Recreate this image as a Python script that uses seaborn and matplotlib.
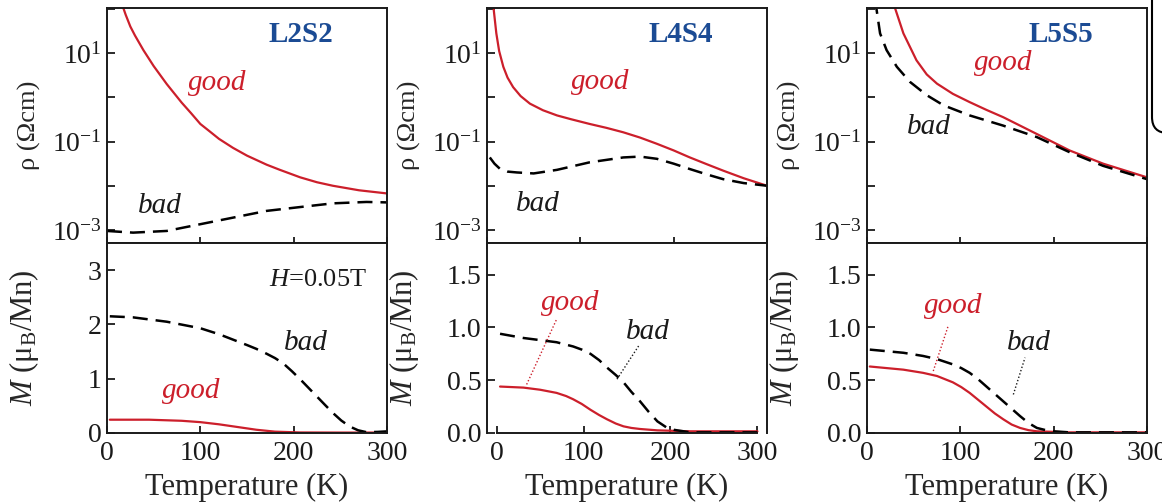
# resistivity and magnetisation of three L/S superlattices, good vs bad samples
import matplotlib
matplotlib.use("Agg")
import pandas as pd
import seaborn as sns
import matplotlib.pyplot as plt
from matplotlib.patches import FancyBboxPatch
from matplotlib.transforms import IdentityTransform
from matplotlib.ticker import FixedLocator, FixedFormatter, NullLocator

# ---- data (T in K, rho in Ohm cm, M in muB/Mn) ----
samples = ["L2S2", "L4S4", "L5S5"]

# L2S2
t_rho_good_L2S2 = [15, 17.5, 20, 25, 30, 39, 50, 64, 80, 90, 100, 110, 120, 135, 150, 171, 185, 207,
                   225, 242, 270, 300]
rho_good_L2S2 = [130, 105, 74, 40, 25, 11.7, 5.1, 2.0, 0.76, 0.44, 0.25, 0.17, 0.115, 0.072, 0.048,
                 0.030, 0.023, 0.0155, 0.012, 0.010, 0.0079, 0.0067]
t_rho_bad_L2S2 = [0, 28, 64, 100, 135, 171, 207, 242, 278, 300]
rho_bad_L2S2 = [9.5e-4, 8.7e-4, 9.5e-4, 1.35e-3, 1.9e-3, 2.7e-3, 3.3e-3, 4.0e-3, 4.3e-3, 4.2e-3]
t_m_good_L2S2 = [3, 45, 80, 100, 120, 140, 160, 180, 207, 250, 300]
m_good_L2S2 = [0.245, 0.245, 0.225, 0.2, 0.16, 0.11, 0.06, 0.025, 0.01, 0.008, 0.008]
t_m_bad_L2S2 = [3, 28, 64, 100, 120, 135, 150, 160, 171, 180, 189, 198, 207, 216, 225, 234, 242,
                251, 260, 269, 278, 290, 300]
m_bad_L2S2 = [2.15, 2.13, 2.05, 1.93, 1.82, 1.72, 1.62, 1.55, 1.46, 1.38, 1.28, 1.14, 0.99, 0.83,
              0.67, 0.51, 0.37, 0.23, 0.12, 0.05, 0.015, 0.02, 0.03]

# L4S4
t_rho_good_L4S4 = [5, 7, 10, 13, 17.5, 22, 28, 36, 46, 60, 75, 90, 110, 128, 146, 164, 182, 200,
                   217, 235, 253, 275, 300]
rho_good_L4S4 = [200, 105, 28, 11.2, 4.9, 2.8, 1.7, 1.07, 0.72, 0.51, 0.39, 0.32, 0.25, 0.204,
                 0.162, 0.123, 0.089, 0.063, 0.044, 0.031, 0.022, 0.0148, 0.010]
t_rho_bad_L4S4 = [3, 8, 14, 22, 32, 50, 75, 110, 146, 164, 182, 200, 217, 235, 253, 275, 300]
rho_bad_L4S4 = [0.0437, 0.0316, 0.024, 0.0209, 0.020, 0.019, 0.0229, 0.0339, 0.0437, 0.0457,
                0.0407, 0.0316, 0.024, 0.0182, 0.0141, 0.0115, 0.010]
t_m_good_L4S4 = [4, 31, 50, 69, 80, 88, 98, 108, 118, 127, 137, 146, 155, 165, 185, 223, 300]
m_good_L4S4 = [0.44, 0.43, 0.41, 0.38, 0.35, 0.32, 0.275, 0.22, 0.17, 0.13, 0.09, 0.063, 0.048,
               0.038, 0.025, 0.016, 0.016]
t_m_bad_L4S4 = [4, 31, 69, 88, 98, 108, 118, 127, 137, 146, 155, 165, 175, 185, 195, 204, 223, 300]
m_bad_L4S4 = [0.94, 0.9, 0.86, 0.82, 0.79, 0.75, 0.69, 0.62, 0.55, 0.48, 0.39, 0.30, 0.2, 0.11,
              0.055, 0.03, 0.006, 0.006]

# L5S5
t_rho_good_L5S5 = [28, 30, 39, 53, 64, 75, 92, 110, 128, 146, 182, 217, 253, 300]
rho_good_L5S5 = [200, 105, 28, 6.9, 3.3, 2.04, 1.2, 0.78, 0.52, 0.355, 0.148, 0.063, 0.0316, 0.0155]
t_rho_bad_L5S5 = [8, 10, 14, 21, 32, 46, 64, 82, 110, 146, 182, 217, 253, 300]
rho_bad_L5S5 = [200, 105, 28, 11.7, 4.9, 2.24, 1.12, 0.66, 0.39, 0.229, 0.126, 0.0575, 0.0282, 0.0141]
t_m_good_L5S5 = [3, 39, 60, 75, 92, 101, 110, 119, 128, 137, 146, 155, 164, 173, 182, 217, 300]
m_good_L5S5 = [0.63, 0.6, 0.57, 0.54, 0.48, 0.435, 0.38, 0.315, 0.25, 0.185, 0.13, 0.08, 0.048,
               0.027, 0.016, 0.006, 0.006]
t_m_bad_L5S5 = [3, 39, 60, 75, 92, 101, 110, 119, 128, 137, 146, 155, 164, 173, 182, 191, 200, 217, 300]
m_bad_L5S5 = [0.79, 0.76, 0.73, 0.7, 0.65, 0.615, 0.57, 0.51, 0.44, 0.37, 0.3, 0.23, 0.16, 0.095,
              0.048, 0.028, 0.016, 0.006, 0.006]

# label positions (data coords) and pointer lines for the M panels
rho_label_good = [(118, 1.45), (121, 1.58), (146, 4.1)]
rho_label_bad = [(57, 2.45e-3), (55, 2.7e-3), (66, 0.15)]
m_label_good = [(90, 0.65), (85, 1.17), (92.5, 1.14)]
m_label_bad = [(213, 1.53), (174, 0.895), (173, 0.79)]
pointer_good = [None, ([34.6, 69.2], [0.46, 1.08]), ([71, 87], [0.587, 1.015])]
pointer_bad = [None, ([138.5, 163.4], [0.51, 0.825]), ([156.8, 169.3], [0.365, 0.714])]
m_ylim = [3.5, 1.8, 1.8]
m_yticks = [[0, 1, 2, 3], [0.0, 0.5, 1.0, 1.5], [0.0, 0.5, 1.0, 1.5]]

rho_data = {
    "L2S2": (t_rho_good_L2S2, rho_good_L2S2, t_rho_bad_L2S2, rho_bad_L2S2),
    "L4S4": (t_rho_good_L4S4, rho_good_L4S4, t_rho_bad_L4S4, rho_bad_L4S4),
    "L5S5": (t_rho_good_L5S5, rho_good_L5S5, t_rho_bad_L5S5, rho_bad_L5S5),
}
m_data = {
    "L2S2": (t_m_good_L2S2, m_good_L2S2, t_m_bad_L2S2, m_bad_L2S2),
    "L4S4": (t_m_good_L4S4, m_good_L4S4, t_m_bad_L4S4, m_bad_L4S4),
    "L5S5": (t_m_good_L5S5, m_good_L5S5, t_m_bad_L5S5, m_bad_L5S5),
}

red = "#cc1f2b"
blue = "#1b4b94"
ink = "#1a1a1a"
dash = (0, (6, 3.2))
tick_fs = 20

sns.set_theme(style="ticks")
plt.rcParams["font.family"] = ["Liberation Serif", "DejaVu Serif"]
plt.rcParams["mathtext.fontset"] = "custom"
plt.rcParams["mathtext.rm"] = "Liberation Serif"
plt.rcParams["mathtext.it"] = "Liberation Serif:italic"
plt.rcParams["mathtext.bf"] = "Liberation Serif:bold"
plt.rcParams["axes.edgecolor"] = ink
plt.rcParams["axes.linewidth"] = 1.4
plt.rcParams["text.color"] = ink
plt.rcParams["xtick.color"] = ink
plt.rcParams["ytick.color"] = ink

fig = plt.figure(figsize=(11.62, 5.04), dpi=100)
lefts = [107, 487, 867]

for i, name in enumerate(samples):
    x0 = lefts[i] / 1162
    w = 280 / 1162
    ax_r = fig.add_axes([x0, 261 / 504, w, 235 / 504])
    ax_m = fig.add_axes([x0, 71 / 504, w, 190 / 504])

    # resistivity panel
    tg, rg, tb, rb = rho_data[name]
    df_g = pd.DataFrame({"T": tg, "rho": rg})
    df_b = pd.DataFrame({"T": tb, "rho": rb})
    sns.lineplot(data=df_g, x="T", y="rho", ax=ax_r, color=red, lw=1.6)
    sns.lineplot(data=df_b, x="T", y="rho", ax=ax_r, color="black", lw=1.8, linestyle=dash)
    ax_r.set_yscale("log")
    ax_r.set_xlim(0, 300)
    ax_r.set_ylim(5.07e-4, 105)
    ax_r.yaxis.set_major_locator(FixedLocator([1e-3, 1e-2, 1e-1, 1, 10, 100]))
    ax_r.yaxis.set_major_formatter(FixedFormatter([r"$10^{-3}$", "", r"$10^{-1}$", "", r"$10^{1}$", ""]))
    ax_r.yaxis.set_minor_locator(NullLocator())
    ax_r.xaxis.set_major_locator(FixedLocator([0, 100, 200, 300]))
    ax_r.tick_params(axis="y", direction="in", length=6, width=1.3, labelsize=tick_fs, pad=4)
    ax_r.tick_params(axis="x", direction="inout", length=9, width=1.3, labelbottom=False)
    ax_r.set_xlabel("")
    ax_r.set_ylabel("ρ (Ωcm)", fontsize=19)
    ax_r.yaxis.set_label_coords(-0.235, 0.5)
    ax_r.text(0.692, 0.857, name, transform=ax_r.transAxes, ha="center", va="baseline",
              fontsize=21, fontweight="bold", color=blue)
    ax_r.text(*rho_label_good[i], "good", ha="center", va="baseline", fontsize=21,
              style="italic", color=red)
    ax_r.text(*rho_label_bad[i], "bad", ha="center", va="baseline", fontsize=21,
              style="italic", color=ink)

    # magnetisation panel
    tg, mg, tb, mb = m_data[name]
    df_g = pd.DataFrame({"T": tg, "M": mg})
    df_b = pd.DataFrame({"T": tb, "M": mb})
    sns.lineplot(data=df_g, x="T", y="M", ax=ax_m, color=red, lw=1.6)
    sns.lineplot(data=df_b, x="T", y="M", ax=ax_m, color="black", lw=1.8, linestyle=dash)
    if i == 1:
        ax_m.set_xlim(-11, 311)
        ax_m.spines["bottom"].set_bounds(0, 300)
    else:
        ax_m.set_xlim(0, 300)
    ax_m.set_ylim(0, m_ylim[i])
    ax_m.xaxis.set_major_locator(FixedLocator([0, 100, 200, 300]))
    ax_m.yaxis.set_major_locator(FixedLocator(m_yticks[i]))
    ax_m.tick_params(axis="y", direction="in", length=6, width=1.3, labelsize=tick_fs, pad=4)
    ax_m.tick_params(axis="x", direction="in", length=5, width=1.3, labelsize=tick_fs, pad=6)
    ax_m.set_xlabel("Temperature (K)", fontsize=22, labelpad=5)
    ax_m.set_ylabel(r"$M$ (μ$_{\rm B}$/Mn)", fontsize=22)
    ax_m.yaxis.set_label_coords(-0.235, 0.5)
    ax_m.text(*m_label_good[i], "good", ha="center", va="baseline", fontsize=21,
              style="italic", color=red)
    ax_m.text(*m_label_bad[i], "bad", ha="center", va="baseline", fontsize=21,
              style="italic", color=ink)
    if pointer_good[i] is not None:
        ax_m.plot(*pointer_good[i], color=red, lw=1.0, linestyle=(0, (1, 1.5)))
        ax_m.plot(*pointer_bad[i], color=ink, lw=1.0, linestyle=(0, (1, 1.5)))
    if i == 0:
        ax_m.text(226, 2.71, r"$H$=0.05T", ha="center", va="baseline", fontsize=19, color=ink)

# the rounded frame peeking in at the top right edge
frame = FancyBboxPatch((1152, 504 - 133), 90, 220, boxstyle="round,pad=0,rounding_size=16",
                       transform=IdentityTransform(), fill=False, lw=1.5, ec="black")
fig.add_artist(frame)

fig.savefig("out.png", dpi=100)
